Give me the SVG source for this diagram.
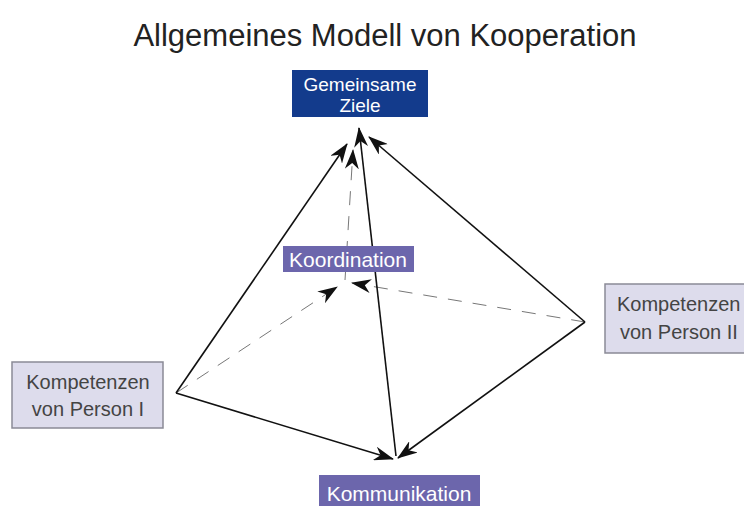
<svg xmlns="http://www.w3.org/2000/svg" width="744" height="506" viewBox="0 0 744 506">
<style>
.t{font-family:"Liberation Sans",Arial,sans-serif}
.w{fill:#fff;text-anchor:middle}
.g{fill:#444;font-size:20px}
.s{stroke:#111;stroke-width:1.6;fill:none}
.d{stroke:#777;stroke-width:1;fill:none;stroke-dasharray:14 11}
.p{fill:#6c66ac}
.l{fill:#dddcec;stroke:#8a8a96;stroke-width:1.5}
</style>
<defs>
<marker id="a" viewBox="0 0 20 14" refX="19" refY="7" markerWidth="20" markerHeight="14" markerUnits="userSpaceOnUse" orient="auto">
<path d="M0,0 L20,7 L0,14 L6,7 z" fill="#111"/>
</marker>
</defs>
<rect width="744" height="506" fill="#fff"/>
<text class="t" x="385" y="46" font-size="31" fill="#222" text-anchor="middle">Allgemeines Modell von Kooperation</text>
<g id="connectors">
<line class="d" x1="176" y1="393" x2="337" y2="287" marker-end="url(#a)"/>
<line class="d" x1="585" y1="322" x2="352" y2="283" marker-end="url(#a)"/>
<line class="d" x1="345" y1="280" x2="353" y2="150" marker-end="url(#a)"/>
<line class="s" x1="176" y1="393" x2="347" y2="144" marker-end="url(#a)"/>
<line class="s" x1="585" y1="322" x2="369" y2="137" marker-end="url(#a)"/>
<line class="s" x1="396" y1="456" x2="359" y2="128" marker-end="url(#a)"/>
<line class="s" x1="176" y1="393" x2="393" y2="459" marker-end="url(#a)"/>
<line class="s" x1="585" y1="322" x2="398" y2="458" marker-end="url(#a)"/>
</g>
<g id="ziele">
<rect x="292" y="70" width="136" height="47" fill="#133b8c"/>
<text class="t w" x="360" y="91" font-size="19">Gemeinsame</text>
<text class="t w" x="360" y="112" font-size="19">Ziele</text>
</g>
<g id="koordination">
<rect class="p" x="283" y="246" width="131" height="26"/>
<text class="t w" x="348" y="267" font-size="21">Koordination</text>
</g>
<g id="person1">
<rect class="l" x="12" y="362" width="151" height="66"/>
<text class="t g" x="88" y="389" text-anchor="middle">Kompetenzen</text>
<text class="t g" x="88" y="416" text-anchor="middle">von Person I</text>
</g>
<g id="person2">
<rect class="l" x="605" y="284" width="145" height="69"/>
<text class="t g" x="617" y="311">Kompetenzen</text>
<text class="t g" x="620" y="339">von Person II</text>
</g>
<g id="kommunikation">
<rect class="p" x="319" y="475" width="161" height="31"/>
<text class="t w" x="399" y="501" font-size="21">Kommunikation</text>
</g>
</svg>
